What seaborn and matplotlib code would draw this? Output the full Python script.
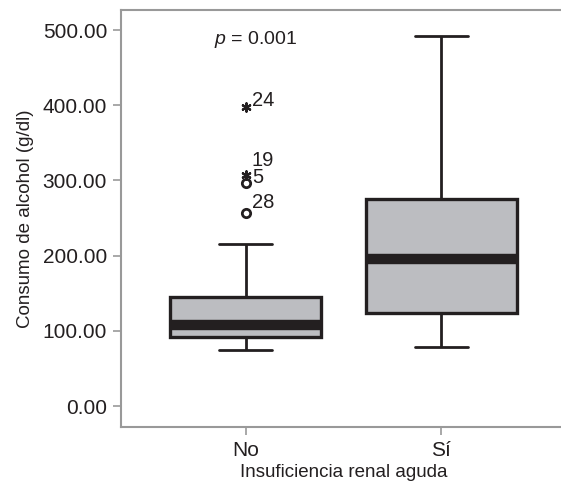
import numpy as np
import pandas as pd
import matplotlib
matplotlib.use('Agg')
import matplotlib.pyplot as plt
import matplotlib.ticker as mticker
import seaborn as sns

sns.set_style('white')
plt.rcParams['font.family'] = ['Liberation Sans Narrow', 'Liberation Sans', 'DejaVu Sans']
plt.rcParams['mathtext.fontset'] = 'custom'
plt.rcParams['mathtext.it'] = 'Liberation Sans:italic'
plt.rcParams['mathtext.rm'] = 'Liberation Sans'

GROUPS = ['No', 'Sí']
# valores (cuartiles/bigotes) - grupo No sin atípicos
no_core = [74.5, 78, 82, 86, 89, 91.3, 94, 98, 102, 105, 107.7,
           112, 118, 126, 136, 145, 216]
# atípicos grupo No
out_vals   = [257, 296, 307, 397]
out_labels = ['28', '5', '19', '24']
out_kind   = ['circle', 'circle', 'star', 'star']
# grupo Sí
si_vals = [78.5, 100, 124, 160, 195.5, 230, 275, 380, 492]

P_TEXT = '$p$ = 0.001'
DARK = '#231f20'
FILL = '#bcbdc1'
SPINE = '#999999'

df = pd.DataFrame({
    'grupo': ['No'] * (len(no_core) + len(out_vals)) + ['Sí'] * len(si_vals),
    'valor': no_core + out_vals + si_vals,
})
df_out = pd.DataFrame({'grupo': 'No', 'valor': out_vals,
                       'kind': out_kind, 'label': out_labels})

fig = plt.figure(figsize=(5.61, 4.88), dpi=100)
ax = fig.add_axes([0.2157, 0.125, 0.7933, 0.8545])

sns.boxplot(data=df, x='grupo', y='valor', order=GROUPS, width=0.77,
            color=FILL, saturation=1, linecolor=DARK, linewidth=2.0,
            showfliers=False, capwidths=0.27,
            boxprops=dict(linewidth=2.4),
            medianprops=dict(linewidth=7.5, color=DARK, solid_capstyle='butt'),
            ax=ax)

circ = df_out[df_out['kind'] == 'circle']
star = df_out[df_out['kind'] == 'star']
sns.stripplot(data=circ, x='grupo', y='valor', order=GROUPS, jitter=False,
              marker='o', s=6, color='white', edgecolor=DARK, linewidth=2,
              ax=ax, zorder=5)
sns.stripplot(data=star, x='grupo', y='valor', order=GROUPS, jitter=False,
              marker=(6, 2, 0), s=6, color=DARK, edgecolor=DARK, linewidth=1.6,
              ax=ax, zorder=5)

# etiquetas de los atípicos
lab_off = {'28': (6, 10), '5': (6, 6), '19': (6, 15), '24': (6, 7)}
for _, r in df_out.iterrows():
    ax.annotate(r['label'], (0, r['valor']), xytext=lab_off[r['label']],
                textcoords='offset pixels', ha='left', va='center',
                fontsize=14.5, color=DARK)

ax.text(0.05, 487, P_TEXT, ha='center', va='center', fontsize=14, color=DARK)

ax.set_xlim(-0.638, 1.638)
ax.set_ylim(-27.9, 526.6)
ax.set_yticks([0, 100, 200, 300, 400, 500])
ax.yaxis.set_major_formatter(mticker.FuncFormatter(lambda v, _: f'{v:.2f}'))
ax.set_xlabel('Insuficiencia renal aguda', fontsize=13.5, color=DARK, labelpad=3)
ax.set_ylabel('Consumo de alcohol (g/dl)', fontsize=13.5, color=DARK, labelpad=6)
ax.tick_params(axis='both', direction='out', length=6, width=1.2, color=SPINE,
               labelsize=15, labelcolor=DARK, left=True, bottom=True, pad=4)
for side in ['top', 'left', 'bottom']:
    ax.spines[side].set_color(SPINE)
    ax.spines[side].set_linewidth(1.5)
ax.spines['right'].set_visible(False)

fig.savefig('out.png', dpi=100)
